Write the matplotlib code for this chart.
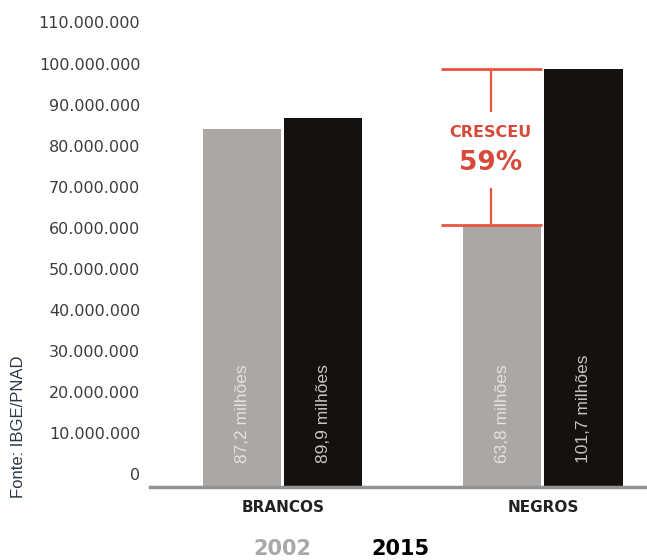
import matplotlib
matplotlib.use("Agg")
import matplotlib.pyplot as plt
import matplotlib.transforms as mtransforms
import numpy as np

categories = ["BRANCOS", "NEGROS"]
years = ["2002", "2015"]
values_2002 = [87.2e6, 63.8e6]
values_2015 = [89.9e6, 101.7e6]
labels_2002 = ["87,2 milhões", "63,8 milhões"]
labels_2015 = ["89,9 milhões", "101,7 milhões"]
yticks = [0, 10e6, 20e6, 30e6, 40e6, 50e6, 60e6, 70e6, 80e6, 90e6, 100e6, 110e6]
ytick_labels = ["0", "10.000.000", "20.000.000", "30.000.000", "40.000.000",
                "50.000.000", "60.000.000", "70.000.000", "80.000.000",
                "90.000.000", "100.000.000", "110.000.000"]
growth_text = "59%"

GRAY = "#aaa7a5"
BLACK = "#15110e"
RED = "#e8553f"
RED_TXT = "#d9493a"

fig = plt.figure(figsize=(6.47, 5.6), dpi=100)
ax = fig.add_axes([150/647, 73/560, 497/647, 487/560])

x = np.arange(len(categories))
w = 0.30
off = 0.156
b1 = ax.bar(x - off, values_2002, width=w, color=GRAY, zorder=2)
b2 = ax.bar(x + off, values_2015, width=w, color=BLACK, zorder=2)

ax.set_xlim(-0.51, 1.40)
ax.set_ylim(0, 118.5e6)

for s in ["top", "right", "left"]:
    ax.spines[s].set_visible(False)
ax.spines["bottom"].set_color("#939393")
ax.spines["bottom"].set_linewidth(2.5)

ax.set_yticks(yticks)
ax.set_yticklabels(ytick_labels, fontsize=11.5, color="#3c3c3c", family="DejaVu Sans")
ax.tick_params(axis="y", length=0, pad=7)
offset = mtransforms.ScaledTranslation(0, 12.5/100, fig.dpi_scale_trans)
for lab in ax.get_yticklabels():
    lab.set_transform(lab.get_transform() + offset)

ax.set_xticks(x)
ax.set_xticklabels(categories, fontsize=11, fontweight="bold", color="#222222")
ax.tick_params(axis="x", length=0, pad=9)

for xi, lab in zip(x - off, labels_2002):
    ax.text(xi, 5.8e6, lab, rotation=90, ha="center", va="bottom",
            color="#e2e2e2", fontsize=12.5, family="Liberation Sans", zorder=3)
for xi, lab in zip(x + off, labels_2015):
    ax.text(xi, 5.8e6, lab, rotation=90, ha="center", va="bottom",
            color="#c4c4c4", fontsize=12.5, family="Liberation Sans", zorder=3)

# growth annotation for NEGROS
lo, hi = values_2002[1], values_2015[1]
xl, xr = 1 - 0.39, 1 - 0.005
xm = 1 - 0.20
ax.hlines([lo, hi], xl, xr, color=RED, lw=2, zorder=4)
ax.vlines(xm, hi, 91.2e6, color=RED, lw=1.6, zorder=4)
ax.vlines(xm, lo, 72.7e6, color=RED, lw=1.6, zorder=4)
ax.text(xm, 86.2e6, "CRESCEU", ha="center", va="center", color=RED_TXT,
        fontsize=11.5, fontweight="bold")
ax.text(xm, 78.9e6, growth_text, ha="center", va="center", color=RED_TXT,
        fontsize=19, fontweight="bold")

# legend-like year labels
fig.text(282/647, 1 - 549/560, years[0], ha="center", va="center",
         fontsize=15, fontweight="bold", color="#aaa7a5")
fig.text(400/647, 1 - 549/560, years[1], ha="center", va="center",
         fontsize=15, fontweight="bold", color="#000000")

fig.text(19/647, 1 - 427/560, "Fonte: IBGE/PNAD", rotation=90, ha="center",
         va="center", fontsize=12, color="#2b3845", family="Liberation Sans")

fig.savefig("out.png", dpi=100)
